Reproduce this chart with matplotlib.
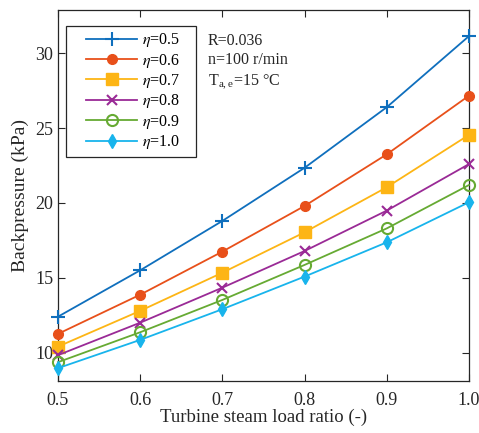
import matplotlib
matplotlib.use("Agg")
import matplotlib.pyplot as plt
from matplotlib.patches import Rectangle

plt.rcParams['font.family'] = ['Liberation Serif', 'DejaVu Serif']
plt.rcParams['mathtext.fontset'] = 'stix'

load_ratio = [0.5, 0.6, 0.7, 0.8, 0.9, 1.0]
eta_labels = [r'$\eta$=0.5', r'$\eta$=0.6', r'$\eta$=0.7', r'$\eta$=0.8', r'$\eta$=0.9', r'$\eta$=1.0']
bp_eta05 = [12.4, 15.5, 18.8, 22.35, 26.4, 31.15]
bp_eta06 = [11.25, 13.87, 16.75, 19.8, 23.25, 27.17]
bp_eta07 = [10.4, 12.79, 15.34, 18.04, 21.05, 24.55]
bp_eta08 = [9.83, 12.0, 14.34, 16.79, 19.49, 22.6]
bp_eta09 = [9.36, 11.36, 13.52, 15.86, 18.3, 21.2]
bp_eta10 = [8.96, 10.85, 12.9, 15.08, 17.37, 20.05]
series = [bp_eta05, bp_eta06, bp_eta07, bp_eta08, bp_eta09, bp_eta10]

colors = ['#0f6fbd', '#e8501a', '#fdb515', '#9a2a96', '#66aa33', '#18b4ec']
markers = ['+', 'o', 's', 'x', 'o', 'd']
msizes = [10, 7, 8, 7, 8, 7]

fig = plt.figure(figsize=(4.79, 4.33), dpi=100)
ax = fig.add_axes([0.121, 0.120, 0.858, 0.857])

for i, ys in enumerate(series):
    face = 'none' if i == 4 else colors[i]
    mew = 1.5 if markers[i] in ('+', 'x', 'o') and i != 1 else 1.0
    ax.plot(load_ratio, ys, color=colors[i], marker=markers[i], markersize=msizes[i],
            markerfacecolor=face, markeredgecolor=colors[i], markeredgewidth=mew,
            linewidth=1.3, label=eta_labels[i], clip_on=False, zorder=3)

ax.set_xlim(0.5, 1.0)
ax.set_ylim(8.1, 32.9)
ax.set_xticks([0.5, 0.6, 0.7, 0.8, 0.9, 1.0])
ax.set_xticklabels(['0.5', '0.6', '0.7', '0.8', '0.9', '1.0'])
ax.set_yticks([10, 15, 20, 25, 30])
ax.tick_params(direction='in', top=True, right=True, labelsize=13, length=5, width=0.8, colors='#262626')
ax.tick_params(axis='x', pad=8)
for s in ax.spines.values():
    s.set_linewidth(0.9)
    s.set_color('#262626')

ax.set_xlabel('Turbine steam load ratio (-)', fontsize=13.5, color='#262626', labelpad=0)
ax.set_ylabel('Backpressure (kPa)', fontsize=14, color='#262626')

# legend frame (figure pixel box) and contents
W, H = 479, 433
frame = Rectangle((66 / W, 1 - 157 / H), 130 / W, 131 / H, transform=fig.transFigure,
                  facecolor='white', edgecolor='#262626', linewidth=0.9, zorder=4)
ax.add_patch(frame)
leg = ax.legend(loc='upper left', bbox_to_anchor=(0.051, 0.962), borderaxespad=0, fontsize=11.5,
                frameon=False, handlelength=3.2,
                labelspacing=0.15, borderpad=0.45, handletextpad=0.3)
leg.set_zorder(5)

tc = '#262626'
base = ax.transAxes
ax.text(0.365, 0.906, 'R=0.036', transform=base, fontsize=11.5, va='baseline', ha='left', color=tc)
ax.text(0.365, 0.854, 'n=100 r/min', transform=base, fontsize=11.5, va='baseline', ha='left', color=tc)
ax.text(0.365, 0.797, 'T$_{\\mathregular{a,e}}$=15 \u00b0C', transform=base, fontsize=11.5,
        va='baseline', ha='left', color=tc)

fig.savefig('out.png', dpi=100)
